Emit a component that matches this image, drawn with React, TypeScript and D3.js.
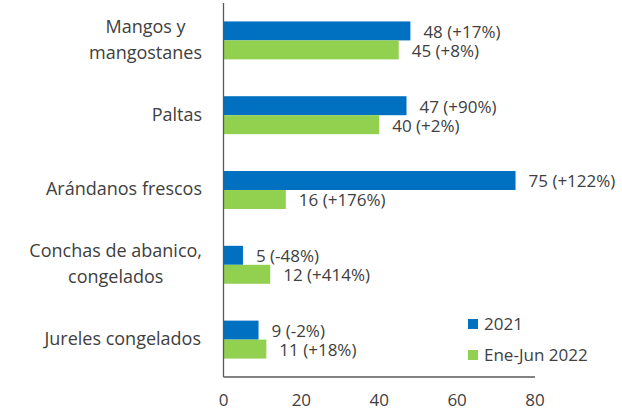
import React, { useEffect, useRef } from 'react'
import * as d3 from 'd3'

const categories = [
	['Mangos y', 'mangostanes'],
	['Paltas'],
	['Arándanos frescos'],
	['Conchas de abanico,', 'congelados'],
	['Jureles congelados']
]
const seriesNames = ['2021', 'Ene-Jun 2022']
const values2021 = [48, 47, 75, 5, 9]
const values2022 = [45, 40, 16, 12, 11]
const labels2021 = ['48 (+17%)', '47 (+90%)', '75 (+122%)', '5 (-48%)', '9 (-2%)']
const labels2022 = ['45 (+8%)', '40 (+2%)', '16 (+176%)', '12 (+414%)', '11 (+18%)']
const xTicks = [0, 20, 40, 60, 80]

const colors = ['#0070C0', '#92D050']
const textColor = '#404040'
const font = '"Open Sans", sans-serif'
const fontSize = '18px'

const App = () => {
	const ref = useRef<SVGSVGElement>(null)

	const width = 622
	const height = 411
	const marginTop = 3
	const marginLeft = 223.5
	const plotRight = 535
	const plotBottom = 377

	useEffect(() => {
		if (!ref.current) return
		const svg = d3.select(ref.current)
		svg.selectAll('*').remove()

		const keys = categories.map((_, i) => String(i))
		const x = d3.scaleLinear().domain([0, 80]).range([marginLeft, plotRight])
		const y0 = d3.scaleBand().domain(keys).range([marginTop, plotBottom])
		const y1 = d3
			.scaleBand()
			.domain(seriesNames)
			.range([0, y0.bandwidth()])
			.paddingInner(0)
			.paddingOuter(0.97)

		const rows = keys.map((k, i) => ({
			key: k,
			items: [
				{ s: seriesNames[0], v: values2021[i], label: labels2021[i], c: colors[0] },
				{ s: seriesNames[1], v: values2022[i], label: labels2022[i], c: colors[1] }
			]
		}))

		const g = svg
			.selectAll('g.row')
			.data(rows)
			.join('g')
			.attr('class', 'row')
			.attr('transform', d => `translate(0,${y0(d.key)})`)

		g.selectAll('rect')
			.data(d => d.items)
			.join('rect')
			.attr('x', x(0))
			.attr('y', d => y1(d.s))
			.attr('width', d => x(d.v) - x(0))
			.attr('height', y1.bandwidth())
			.attr('fill', d => d.c)

		g.selectAll('text.val')
			.data(d => d.items)
			.join('text')
			.attr('class', 'val')
			.attr('x', d => x(d.v) + 13)
			.attr('y', d => y1(d.s) + y1.bandwidth() / 2 + 1)
			.attr('dy', '0.35em')
			.attr('fill', textColor)
			.style('font-family', font)
			.style('font-size', '17px')
			.text(d => d.label)

		// category labels, centered lines, right aligned block
		const lh = 26
		svg
			.selectAll('g.cat')
			.data(categories)
			.join('g')
			.attr('class', 'cat')
			.each(function (lines, i) {
				const grp = d3.select(this)
				const cy = y0(String(i)) + y0.bandwidth() / 2 - 1
				const t = grp
					.append('text')
					.attr('text-anchor', 'middle')
					.attr('fill', textColor)
					.style('font-family', font)
					.style('font-size', fontSize)
				lines.forEach((ln, j) => {
					t.append('tspan')
						.attr('x', 0)
						.attr('y', cy + (j - (lines.length - 1) / 2) * lh)
						.attr('dy', '0.35em')
						.text(ln)
				})
				const w = (t.node() as SVGTextElement).getBBox().width
				t.attr('transform', `translate(${202 - w / 2},0)`)
			})

		// axes
		svg
			.append('line')
			.attr('x1', x(0))
			.attr('x2', x(0))
			.attr('y1', marginTop)
			.attr('y2', plotBottom)
			.attr('stroke', '#595959')
			.attr('stroke-width', 1.3)
		svg
			.append('line')
			.attr('x1', x(0))
			.attr('x2', plotRight)
			.attr('y1', plotBottom)
			.attr('y2', plotBottom)
			.attr('stroke', '#595959')
			.attr('stroke-width', 1.3)

		svg
			.selectAll('text.tick')
			.data(xTicks)
			.join('text')
			.attr('class', 'tick')
			.attr('x', d => x(d))
			.attr('y', 400)
			.attr('dy', '0.35em')
			.attr('text-anchor', 'middle')
			.attr('fill', textColor)
			.style('font-family', font)
			.style('font-size', '17px')
			.text(d => d)

		// legend
		const leg = svg
			.selectAll('g.legend')
			.data(seriesNames)
			.join('g')
			.attr('class', 'legend')
			.attr('transform', (_, i) => `translate(468,${319 + i * 31})`)
		leg.append('rect').attr('width', 10).attr('height', 10).attr('fill', (_, i) => colors[i])
		leg
			.append('text')
			.attr('x', 16)
			.attr('y', 5)
			.attr('dy', '0.35em')
			.attr('fill', textColor)
			.style('font-family', font)
			.style('font-size', '17px')
			.text(d => d)
	}, [])

	return (
		<svg
			ref={ref}
			width={width}
			height={height}
			style={{ position: 'absolute', left: 0, top: 0, background: '#fff' }}
		/>
	)
}

export default App
